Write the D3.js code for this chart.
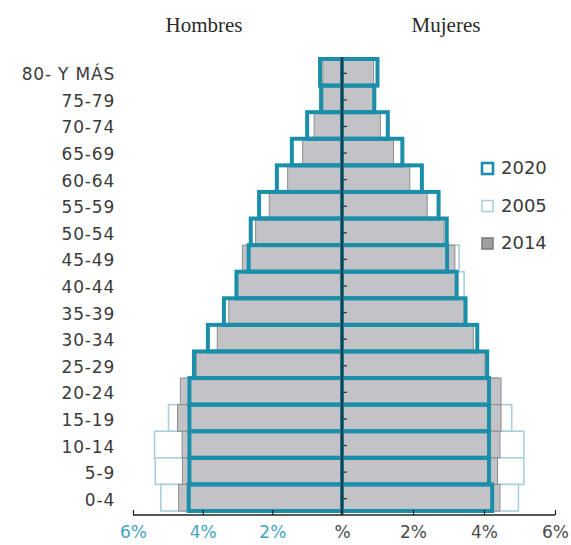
<!DOCTYPE html>
<html><head><meta charset="utf-8">
<script src="https://cdn.jsdelivr.net/npm/d3@7"></script>
<style>html,body{margin:0;padding:0;background:#fff;}</style>
</head><body>
<svg id="chart" width="571" height="545"></svg>
<script>
const ages = ["80- Y MÁS","75-79","70-74","65-69","60-64","55-59","50-54","45-49","40-44","35-39","30-34","25-29","20-24","15-19","10-14","5-9","0-4"];
const hombres2005 = [0.45,0.45,0.75,1.05,1.4,1.85,2.3,2.7,2.95,3.15,3.5,4.0,4.5,4.98,5.38,5.36,5.2];
const hombres2014 = [0.55,0.55,0.8,1.13,1.56,2.09,2.48,2.86,3.05,3.25,3.58,4.18,4.64,4.72,4.59,4.58,4.69];
const hombres2020 = [0.63,0.6,1.0,1.44,1.87,2.38,2.62,2.68,3.03,3.39,3.85,4.25,4.38,4.38,4.38,4.38,4.4];
const mujeres2005 = [0.8,0.75,1.0,1.35,1.75,2.25,2.75,3.3,3.44,3.4,3.6,3.95,4.4,4.78,5.12,5.12,4.97];
const mujeres2014 = [0.89,0.87,1.08,1.45,1.91,2.4,2.87,3.18,3.2,3.44,3.7,4.03,4.48,4.48,4.45,4.38,4.45];
const mujeres2020 = [1.0,0.91,1.29,1.7,2.25,2.72,2.95,2.96,3.23,3.48,3.81,4.09,4.14,4.14,4.14,4.14,4.23];
const ticks = [0,2,4,6];
const legendYears = ["2020","2005","2014"];

const svg = d3.select("#chart");
const cx = 342;
const xL = d3.scaleLinear().domain([0,6]).range([cx,133]);
const xR = d3.scaleLinear().domain([0,6]).range([cx,555]);
const y = d3.scaleBand().domain(ages).range([59,511]).padding(0);

const TEAL="#1b8fa9", LIGHT="#a9cfdb", GRAYF="#c3c2c6", GRAYS="#8d8d8d";

function drawSide(vals, scale, left, style){
  svg.append("g").selectAll("rect").data(vals).join("rect")
    .attr("x", d => left ? scale(d) : cx)
    .attr("width", d => Math.abs(scale(d)-cx))
    .attr("y", (d,i) => y(ages[i]))
    .attr("height", y.bandwidth())
    .attr("fill", style.fill)
    .attr("stroke", style.stroke)
    .attr("stroke-width", style.sw);
}
drawSide(hombres2005, xL, true, {fill:"#fff", stroke:LIGHT, sw:1.6});
drawSide(mujeres2005, xR, false, {fill:"#fff", stroke:LIGHT, sw:1.6});
drawSide(hombres2014, xL, true, {fill:GRAYF, stroke:GRAYS, sw:1});
drawSide(mujeres2014, xR, false, {fill:GRAYF, stroke:GRAYS, sw:1});
drawSide(hombres2020, xL, true, {fill:"none", stroke:TEAL, sw:4});
drawSide(mujeres2020, xR, false, {fill:"none", stroke:TEAL, sw:4});

svg.append("line").attr("x1",cx).attr("x2",cx).attr("y1",57).attr("y2",515)
  .attr("stroke","#1d3c4c").attr("stroke-width",2.5);
svg.append("g").selectAll("line").data(ages).join("line")
  .attr("x1",cx).attr("x2",cx+5)
  .attr("y1",d=>y(d)+y.bandwidth()/2+1).attr("y2",d=>y(d)+y.bandwidth()/2+1)
  .attr("stroke","#1d3c4c").attr("stroke-width",1.3);

const axisY = 515;
const gL = svg.append("g").attr("transform",`translate(0,${axisY})`)
  .call(d3.axisBottom(xL).tickValues(ticks.slice(1)).tickSize(-5).tickFormat(d=>d+"%"));
const gR = svg.append("g").attr("transform",`translate(0,${axisY})`)
  .call(d3.axisBottom(xR).tickValues(ticks).tickSize(-5).tickFormat(d=>d===0?"%":d+"%"));
[gL,gR].forEach(g=>{
  g.select(".domain").attr("stroke","#222").attr("stroke-width",1.3);
  g.selectAll(".tick line").attr("stroke","#222").attr("stroke-width",1.2);
  g.selectAll(".tick text").attr("font-family","DejaVu Sans, sans-serif").attr("font-size",17).attr("dy","1.2em");
});
gL.selectAll(".tick text").attr("fill","#3fa5c0");
gR.selectAll(".tick text").attr("fill","#4a4a4a");
gR.select(".domain").attr("d",`M${cx},0H555`);
gL.select(".domain").attr("d",`M133,0H${cx}`);

svg.append("g").selectAll("text").data(ages).join("text")
  .attr("x",115).attr("y",d=>y(d)+y.bandwidth()/2+3)
  .attr("text-anchor","end").attr("dominant-baseline","middle")
  .attr("font-family","DejaVu Sans, sans-serif").attr("font-size",17).attr("letter-spacing",0.8)
  .attr("fill","#3a3a3a").text(d=>d);

svg.append("text").attr("x",204).attr("y",32).attr("text-anchor","middle")
  .attr("font-family","Liberation Serif, serif").attr("font-size",21).attr("fill","#2a2a2a").text("Hombres");
svg.append("text").attr("x",446).attr("y",32).attr("text-anchor","middle")
  .attr("font-family","Liberation Serif, serif").attr("font-size",21).attr("fill","#2a2a2a").text("Mujeres");

const legStyles = {"2020":{fill:"#fff",stroke:TEAL,sw:2.6},"2005":{fill:"#fff",stroke:LIGHT,sw:1.6},"2014":{fill:"#a0a0a0",stroke:"#7e7e7e",sw:1.6}};
const lg = svg.append("g").selectAll("g").data(legendYears).join("g")
  .attr("transform",(d,i)=>`translate(482,${163+i*37.5})`);
lg.append("rect").attr("width",11).attr("height",11)
  .attr("fill",d=>legStyles[d].fill).attr("stroke",d=>legStyles[d].stroke).attr("stroke-width",d=>legStyles[d].sw);
lg.append("text").attr("x",19).attr("y",6).attr("dominant-baseline","middle")
  .attr("font-family","DejaVu Sans, sans-serif").attr("font-size",18).attr("fill","#3a3a3a").text(d=>d);
</script>
</body></html>
